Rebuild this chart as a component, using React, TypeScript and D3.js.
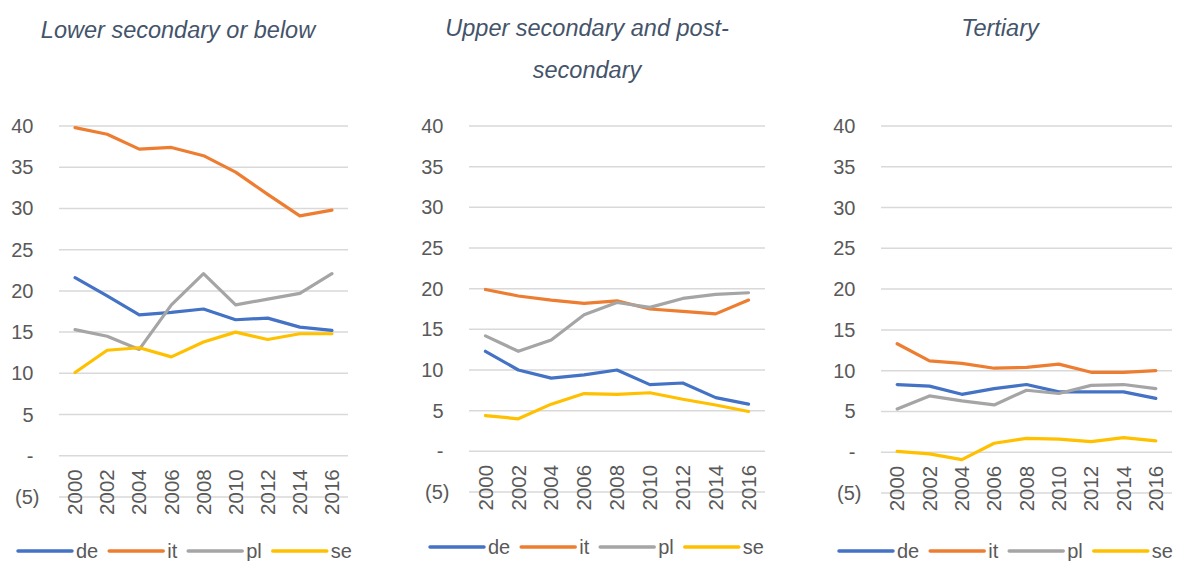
import React from 'react';
import * as d3 from 'd3';

const years = ['2000', '2002', '2004', '2006', '2008', '2010', '2012', '2014', '2016'];
const seriesNames = ['de', 'it', 'pl', 'se'];
const seriesColors = ['#4472C4', '#ED7D31', '#A5A5A5', '#FFC000'];
const yTicks = [40, 35, 30, 25, 20, 15, 10, 5, 0, -5];

const panelTitles = [
  ['Lower secondary or below'],
  ['Upper secondary and post-', 'secondary'],
  ['Tertiary'],
];

// Lower secondary or below
const lowerDe = [21.6, 19.4, 17.1, 17.4, 17.8, 16.5, 16.7, 15.6, 15.2];
const lowerIt = [39.8, 39.0, 37.2, 37.4, 36.4, 34.4, 31.7, 29.1, 29.8];
const lowerPl = [15.3, 14.5, 12.9, 18.3, 22.1, 18.3, 19.0, 19.7, 22.1];
const lowerSe = [10.1, 12.8, 13.1, 12.0, 13.8, 15.0, 14.1, 14.8, 14.8];

// Upper secondary and post-secondary
const upperDe = [12.3, 10.0, 9.0, 9.4, 10.0, 8.2, 8.4, 6.6, 5.8];
const upperIt = [19.9, 19.1, 18.6, 18.2, 18.5, 17.5, 17.2, 16.9, 18.6];
const upperPl = [14.2, 12.3, 13.7, 16.8, 18.3, 17.7, 18.8, 19.3, 19.5];
const upperSe = [4.4, 4.0, 5.8, 7.1, 7.0, 7.2, 6.4, 5.7, 4.9];

// Tertiary
const tertDe = [8.3, 8.1, 7.1, 7.8, 8.3, 7.4, 7.4, 7.4, 6.6];
const tertIt = [13.3, 11.2, 10.9, 10.3, 10.4, 10.8, 9.8, 9.8, 10.0];
const tertPl = [5.3, 6.9, 6.3, 5.8, 7.6, 7.2, 8.2, 8.3, 7.8];
const tertSe = [0.1, -0.2, -0.9, 1.1, 1.7, 1.6, 1.3, 1.8, 1.4];

const panelData = [
  [lowerDe, lowerIt, lowerPl, lowerSe],
  [upperDe, upperIt, upperPl, upperSe],
  [tertDe, tertIt, tertPl, tertSe],
];

const layouts = [
  { x0: 59, x1: 348, yTop: 126, yBot: 497, titleX: 178, titleY: 38, legendX: 18, legendY: 551 },
  { x0: 469, x1: 765, yTop: 126, yBot: 492, titleX: 587, titleY: 36, legendX: 430, legendY: 547 },
  { x0: 881, x1: 1172, yTop: 126, yBot: 493, titleX: 1000, titleY: 36, legendX: 839, legendY: 551 },
];

const FONT = "Arial, 'Liberation Sans', sans-serif";
const TEXT = '#595959';
const GRID = '#D9D9D9';
const TITLE = '#44546A';

const legendTextW: Record<string, number> = { de: 22.2, it: 10, pl: 15.6, se: 21.1 };

const fmt = (v: number) => (v === 0 ? '-' : v < 0 ? `(${-v})` : String(v));

function Panel({ idx }: { idx: number }) {
  const L = layouts[idx];
  const data = panelData[idx];
  const x = d3.scaleBand<string>().domain(years).range([L.x0, L.x1]).padding(0);
  const y = d3.scaleLinear().domain([-5, 40]).range([L.yBot, L.yTop]);
  const cx = (yr: string) => (x(yr) as number) + x.bandwidth() / 2;
  const line = d3
    .line<number>()
    .x((_, i) => cx(years[i]))
    .y((d) => y(d));

  let lx = L.legendX;
  const legendItems = seriesNames.map((n, i) => {
    const start = lx;
    lx += 54 + 4 + legendTextW[n] + 11;
    return { n, i, start };
  });

  return (
    <g>
      {panelTitles[idx].map((t, k) => (
        <text
          key={k}
          x={L.titleX}
          y={L.titleY + k * 42}
          textAnchor="middle"
          fontFamily={FONT}
          fontStyle="italic"
          fontSize={23.5}
          fill={TITLE}
        >
          {t}
        </text>
      ))}
      {yTicks.map((t) => (
        <g key={t}>
          <line x1={L.x0} x2={L.x1} y1={y(t)} y2={y(t)} stroke={GRID} strokeWidth={1.5} />
          <text
            x={L.x0 - 25.5 + (t < 0 ? 6 : 0)}
            y={y(t)}
            dy="0.35em"
            textAnchor="end"
            fontFamily={FONT}
            fontSize={20}
            fill={TEXT}
          >
            {fmt(t)}
          </text>
        </g>
      ))}
      {years.map((yr) => (
        <text
          key={yr}
          transform={`translate(${cx(yr)},${y(0) + 13.5}) rotate(-90)`}
          dy="0.35em"
          textAnchor="end"
          fontFamily={FONT}
          fontSize={20.5}
          fill={TEXT}
        >
          {yr}
        </text>
      ))}
      {data.map((vals, i) => (
        <path
          key={i}
          d={line(vals) as string}
          fill="none"
          stroke={seriesColors[i]}
          strokeWidth={3.2}
          strokeLinejoin="round"
          strokeLinecap="round"
        />
      ))}
      {legendItems.map(({ n, i, start }) => (
        <g key={n}>
          <line
            x1={start}
            x2={start + 54}
            y1={L.legendY}
            y2={L.legendY}
            stroke={seriesColors[i]}
            strokeWidth={3.5}
            strokeLinecap="round"
          />
          <text x={start + 58} y={L.legendY} dy="0.35em" fontFamily={FONT} fontSize={20} fill={TEXT}>
            {n}
          </text>
        </g>
      ))}
    </g>
  );
}

export default function App() {
  return (
    <svg width={1181} height={561} style={{ position: 'absolute', left: 0, top: 0, background: '#fff' }}>
      <rect width={1181} height={561} fill="#fff" />
      {[0, 1, 2].map((i) => (
        <Panel key={i} idx={i} />
      ))}
    </svg>
  );
}
